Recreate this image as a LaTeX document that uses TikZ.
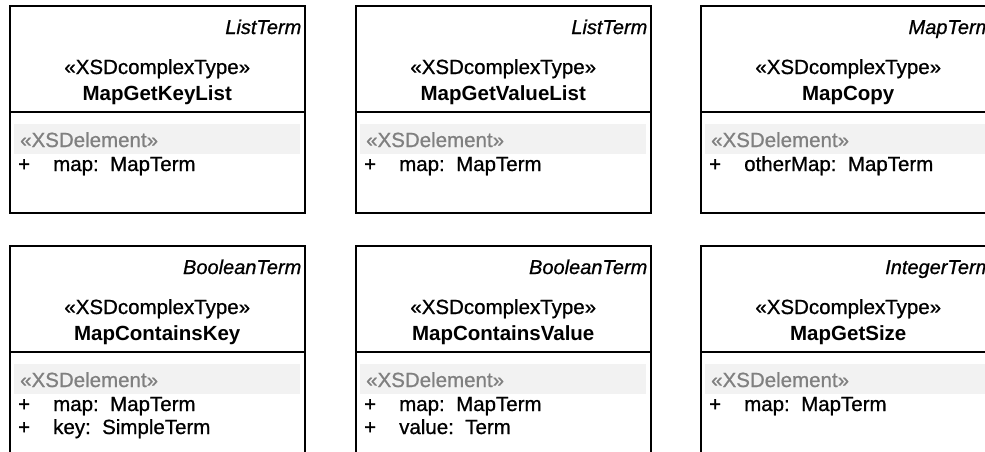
\documentclass[tikz,border=0pt]{standalone}
\usepackage{fontspec}
\setmainfont{Liberation Sans}
\newfontfamily\heavyfont{Liberation Sans}[FakeBold=0.8]
\usetikzlibrary{calc}
\definecolor{bandgray}{HTML}{F2F2F2}
\definecolor{stereogray}{HTML}{808080}
\tikzset{
  classbox/.style={draw=black, line width=1.5pt, minimum width=295pt, minimum height=207pt, anchor=north west, inner sep=0pt},
  parentlbl/.style={anchor=base east, inner sep=0pt, font=\fontsize{20}{22}\selectfont\heavyfont\itshape},
  stereolbl/.style={anchor=base, inner sep=0pt, font=\fontsize{20.5}{22}\selectfont\heavyfont},
  namelbl/.style={anchor=base, inner sep=0pt, font=\fontsize{20.5}{22}\selectfont\bfseries},
  elemlbl/.style={anchor=base west, inner sep=0pt, text=stereogray, font=\fontsize{20.5}{22}\selectfont\heavyfont},
  attrlbl/.style={anchor=base west, inner sep=0pt, font=\fontsize{20.5}{22}\selectfont\heavyfont},
  divline/.style={draw=black, line width=1.5pt},
  band/.style={fill=bandgray, draw=none}
}
% #1 name, #2 x, #3 y, #4 parent, #5 class, #6 attr1, #7 attr2
\newcommand{\umlclassbox}[7]{%
  \path[band] ($(#2+5,-#3-119)$) rectangle ($(#2+291,-#3-149)$);
  \node[classbox] (#1) at (#2,-#3) {};
  \draw[divline] ([yshift=-107pt]#1.north west) -- ([yshift=-107pt]#1.north east);
  \node[parentlbl] (#1-parent) at ([xshift=-4pt,yshift=-29pt]#1.north east) {#4};
  \node[stereolbl] (#1-stereo) at ([yshift=-69pt]#1.north) {«XSDcomplexType»};
  \node[namelbl] (#1-name) at ([yshift=-95pt]#1.north) {#5};
  \node[elemlbl] (#1-elem) at ([xshift=11pt,yshift=-142pt]#1.north west) {«XSDelement»};
  \node[attrlbl] (#1-p1) at ([xshift=9pt,yshift=-166pt]#1.north west) {+};
  \node[attrlbl] (#1-a1) at ([xshift=44pt,yshift=-166pt]#1.north west) {#6};
  \ifx\relax#7\relax\else
    \node[attrlbl] (#1-p2) at ([xshift=9pt,yshift=-189pt]#1.north west) {+};
    \node[attrlbl] (#1-a2) at ([xshift=44pt,yshift=-189pt]#1.north west) {#7};
  \fi
}
\begin{document}
\begin{tikzpicture}[x=1pt,y=1pt]
\useasboundingbox (0,0) rectangle (985,-451);
\clip (0,0) rectangle (985,-451);
\umlclassbox{keylist}{9}{5}{ListTerm}{MapGetKeyList}{map:\ \ MapTerm}{}
\umlclassbox{valuelist}{355}{5}{ListTerm}{MapGetValueList}{map:\ \ MapTerm}{}
\umlclassbox{copy}{700}{5}{MapTerm}{MapCopy}{otherMap:\ \ MapTerm}{}
\umlclassbox{containskey}{9}{245}{BooleanTerm}{MapContainsKey}{map:\ \ MapTerm}{key:\ \ SimpleTerm}
\umlclassbox{containsvalue}{355}{245}{BooleanTerm}{MapContainsValue}{map:\ \ MapTerm}{value:\ \ Term}
\umlclassbox{getsize}{700}{245}{IntegerTerm}{MapGetSize}{map:\ \ MapTerm}{}
\end{tikzpicture}
\end{document}
